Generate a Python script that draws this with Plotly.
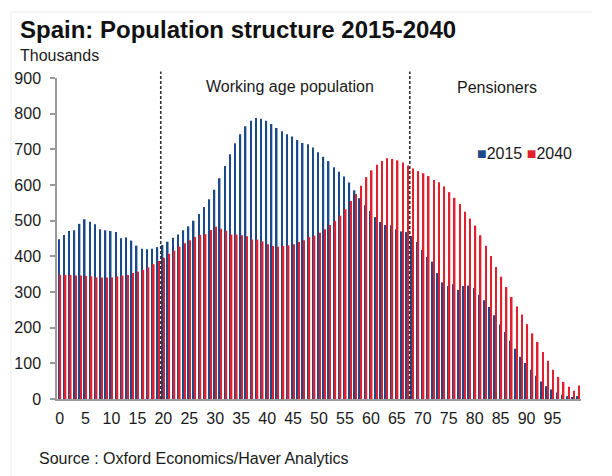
import plotly.graph_objects as go

ages = list(range(0, 101))

pop_2015 = [448, 460, 471, 473, 491, 504, 497, 490, 476, 473,
            471, 468, 451, 453, 444, 430, 421, 420, 421, 426,
            432, 441, 452, 461, 473, 484, 500, 519, 538, 560,
            587, 619, 653, 686, 717, 742, 765, 780, 788, 786,
            780, 771, 760, 751, 742, 736, 726, 718, 714, 705,
            692, 679, 667, 650, 637, 624, 607, 585, 563, 543,
            527, 510, 496, 488, 487, 476, 470, 468, 457, 440,
            418, 398, 385, 353, 327, 317, 322, 306, 317, 318,
            311, 292, 277, 258, 235, 209, 188, 163, 141, 118,
            101, 82, 65, 49, 36, 27, 18, 12, 8, 5, 8]

pop_2040 = [348, 348, 348, 346, 346, 345, 344, 341, 341, 341,
            341, 344, 346, 348, 353, 357, 362, 369, 378, 387,
            396, 407, 416, 427, 437, 445, 454, 460, 462, 474,
            483, 477, 472, 461, 461, 459, 456, 447, 447, 442,
            434, 429, 427, 429, 431, 434, 440, 445, 454, 458,
            466, 476, 488, 499, 514, 532, 555, 575, 598, 622,
            641, 657, 667, 675, 673, 669, 663, 655, 646, 639,
            633, 625, 614, 608, 596, 580, 564, 547, 525, 506,
            486, 459, 430, 401, 370, 343, 314, 286, 259, 237,
            210, 184, 160, 132, 107, 82, 62, 48, 34, 23, 38]

x_ticks = list(range(0, 100, 5))
y_ticks = list(range(0, 1000, 100))
divider_ages = [19.5, 67.5]

BLUE = "#1B4A8A"
RED = "#E21F2D"
FONT = "Liberation Sans, Arial, sans-serif"
TXT = "#1a1a1a"

fig = go.Figure()
fig.add_trace(go.Bar(x=ages, y=pop_2015, name="2015", marker=dict(color=BLUE, line=dict(width=0))))
fig.add_trace(go.Bar(x=ages, y=pop_2040, name="2040", marker=dict(color=RED, line=dict(width=0))))

fig.update_layout(
    width=612, height=476,
    margin=dict(l=57, r=31, t=78, b=77),
    paper_bgcolor="white", plot_bgcolor="white",
    barmode="group", bargap=0.4, bargroupgap=0.0,
    showlegend=False,
    font=dict(family=FONT, size=16, color=TXT),
    title=dict(text="<b>Spain: Population structure 2015-2040</b>",
               x=20/612, xanchor="left", xref="container",
               y=1-30/476, yanchor="middle", yref="container",
               font=dict(family=FONT, size=24, color="#111111")),
)

fig.update_xaxes(range=[-0.5, 100.5], tickmode="array", tickvals=x_ticks,
                 ticktext=[str(t) for t in x_ticks], showgrid=False, zeroline=False,
                 showline=True, linecolor="#9a9a9a", linewidth=1.5, ticks="",
                 tickfont=dict(size=16, color=TXT), ticklabelstandoff=4)
fig.update_yaxes(range=[0, 900], tickmode="array", tickvals=y_ticks,
                 showgrid=False, zeroline=False, showline=True, linecolor="#9a9a9a",
                 linewidth=1.5, ticks="outside", ticklen=5, tickcolor="#9a9a9a",
                 tickwidth=1.5, tickfont=dict(size=16, color=TXT), ticklabelstandoff=6)

for a in divider_ages:
    fig.add_shape(type="line", xref="x", yref="paper", x0=a, x1=a, y0=0, y1=1.02,
                  line=dict(color="#333333", width=1.6, dash="3px,2px"))

# faint frame
fig.add_shape(type="line", xref="paper", yref="paper", x0=-0.0878, x1=1.021, y0=1.2056, y1=1.2056,
              line=dict(color="#ececec", width=1))
fig.add_shape(type="line", xref="paper", yref="paper", x0=-0.0878, x1=-0.0878, y0=1.2056, y1=-0.26,
              line=dict(color="#ececec", width=1))

ann = [
    dict(text="Thousands", x=-0.0744, y=1.069, xanchor="left", yanchor="middle"),
    dict(text="Working age population", x=0.4447, y=0.973, xanchor="center", yanchor="middle"),
    dict(text="Pensioners", x=0.8397, y=0.970, xanchor="center", yanchor="middle"),
    dict(text=f"<span style='color:{BLUE}'>■</span>2015 <span style='color:{RED}'>■</span>2040",
         x=0.797, y=0.764, xanchor="left", yanchor="middle"),
    dict(text="Source : Oxford Economics/Haver Analytics", x=-0.038, y=-0.186,
         xanchor="left", yanchor="middle"),
]
for a in ann:
    fig.add_annotation(xref="paper", yref="paper", showarrow=False,
                       font=dict(family=FONT, size=16, color=TXT), **a)

fig.write_html("out.html", config={"displayModeBar": False},
               post_script="document.body.style.margin='0';document.body.style.overflow='hidden';")
